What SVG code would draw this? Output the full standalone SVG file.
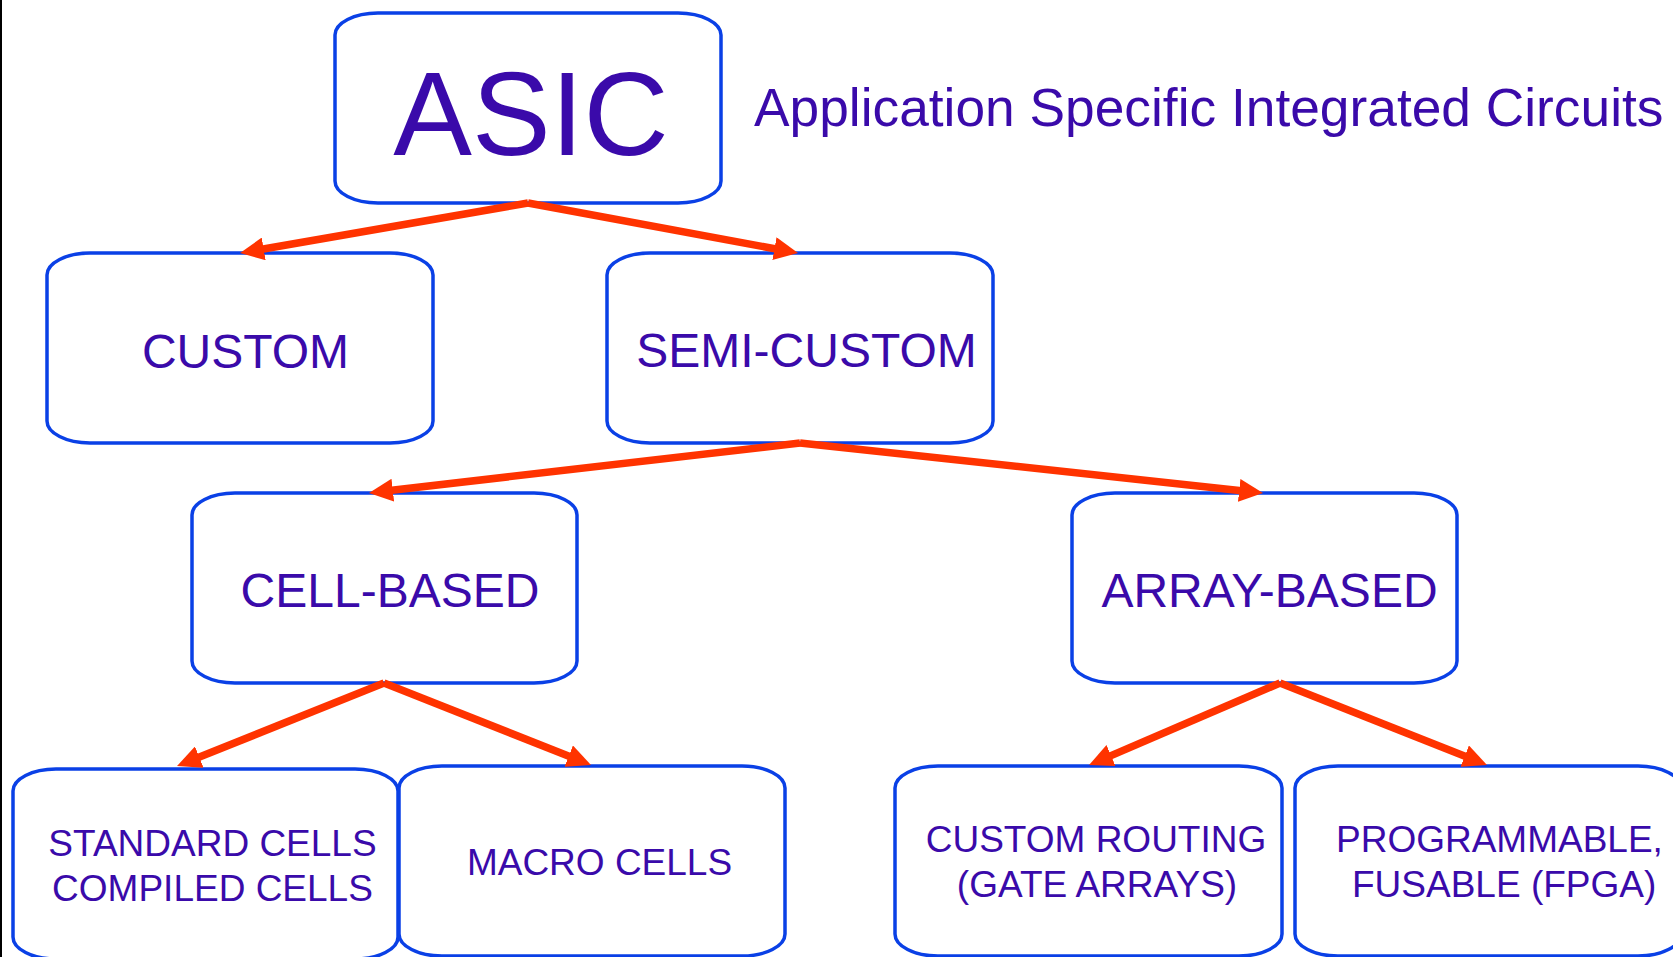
<svg xmlns="http://www.w3.org/2000/svg" width="1673" height="957" viewBox="0 0 1673 957">
<defs>
<style>
.box{fill:none;stroke:#0a40e6;stroke-width:3.5}
.t{font-family:"Liberation Sans",Arial,sans-serif;fill:#3a0aaa}
.c{text-anchor:middle}
.conn line{stroke:#ff3300;stroke-width:7.5;marker-end:url(#ah)}
</style>
<marker id="ah" viewBox="0 0 24 23" refX="14" refY="11.5" markerWidth="24" markerHeight="23" markerUnits="userSpaceOnUse" orient="auto">
<path d="M0,0 L24,11.5 L0,23 z" fill="#ff3300"/>
</marker>
</defs>
<rect width="1673" height="957" fill="#ffffff"/>
<line x1="1" y1="0" x2="1" y2="957" stroke="#000" stroke-width="2"/>

<g id="asic">
<rect class="box" x="335" y="13" width="386" height="190" rx="43" ry="22"/>
<text class="t c" x="531" y="155" font-size="118">ASIC</text>
</g>
<g id="title">
<text class="t" x="754" y="126" font-size="53.3">Application Specific Integrated Circuits</text>
</g>
<g id="custom">
<rect class="box" x="47" y="253" width="386" height="190" rx="43" ry="22"/>
<text class="t c" x="245.5" y="368" font-size="48">CUSTOM</text>
</g>
<g id="semicustom">
<rect class="box" x="607" y="253" width="386" height="190" rx="43" ry="22"/>
<text class="t c" x="806.5" y="367" font-size="48">SEMI-CUSTOM</text>
</g>
<g id="cellbased">
<rect class="box" x="192" y="493" width="385" height="190" rx="43" ry="22"/>
<text class="t c" x="390" y="607" font-size="48">CELL-BASED</text>
</g>
<g id="arraybased">
<rect class="box" x="1072" y="493" width="385" height="190" rx="43" ry="22"/>
<text class="t c" x="1269.5" y="607" font-size="48">ARRAY-BASED</text>
</g>
<g id="standard">
<rect class="box" x="13" y="769" width="385" height="190" rx="43" ry="22"/>
<text class="t c" x="212.5" y="856" font-size="37">STANDARD CELLS</text>
<text class="t c" x="212.5" y="901" font-size="37">COMPILED CELLS</text>
</g>
<g id="macro">
<rect class="box" x="399" y="766" width="386" height="190" rx="43" ry="22"/>
<text class="t c" x="599.5" y="875" font-size="37">MACRO CELLS</text>
</g>
<g id="routing">
<rect class="box" x="895" y="766" width="387" height="190" rx="43" ry="22"/>
<text class="t c" x="1096" y="852" font-size="37">CUSTOM ROUTING</text>
<text class="t c" x="1097" y="897" font-size="37">(GATE ARRAYS)</text>
</g>
<g id="fpga">
<rect class="box" x="1295" y="766" width="386" height="190" rx="43" ry="22"/>
<text class="t" x="1336" y="852" font-size="37">PROGRAMMABLE,</text>
<text class="t" x="1352" y="897" font-size="37">FUSABLE (FPGA)</text>
</g>

<g id="connectors" class="conn">
<line x1="528" y1="203" x2="249.9" y2="251.3"/>
<line x1="528" y1="203" x2="788.2" y2="251.2"/>
<line x1="800" y1="443" x2="378.9" y2="491.8"/>
<line x1="800" y1="443" x2="1253.1" y2="491.9"/>
<line x1="384" y1="683" x2="186.3" y2="762.3"/>
<line x1="384" y1="683" x2="581.7" y2="761.3"/>
<line x1="1280" y1="683" x2="1098.2" y2="761.1"/>
<line x1="1280" y1="683" x2="1477.7" y2="761.3"/>
</g>
</svg>
